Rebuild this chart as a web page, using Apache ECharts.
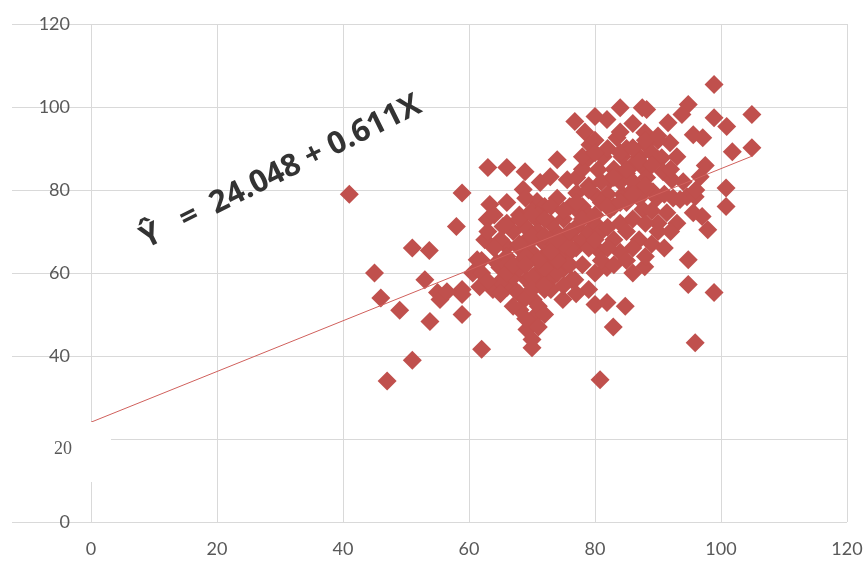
<!DOCTYPE html>
<html><head><meta charset="utf-8">
<script src="https://cdn.jsdelivr.net/npm/echarts@6/dist/echarts.min.js"></script>
<style>html,body{margin:0;padding:0;background:#fff}#c{width:867px;height:563px}</style>
</head><body><div id="c"></div>
<script>
const pointsX = [41,45,46,47,49,51,51,53.7,53,53.8,55,55.4,58,58.9,58.9,58.9,58.9,56.5,62,60.6,61.7,63.8,66,64.9,61.3,62.5,62.9,63.3,63,66,68.9,74,65.4,66,69.2,70.8,74,76,75.6,72.4,68.1,64.4,68.6,70.8,71.3,72.9,75.6,
70,69.2,70.2,68.1,70.2,67.6,69.2,74.9,76.3,72.9,71.3,
76.8,80,81.9,82.9,80.8,81.9,80.8,87.9,94.8,94.8,84.8,95.9,98.9,
98.9,98.9,100.9,104.9,101.8,104.9,100.8,100.8,97.1,97.9,97.5,94.8,93.8,91.6,91.9,95.6,96.7,90.6,90.8,89.8,92.4,94.6,95.9,97,
84,87.5,88.2,80,81.9,76.8,78.4,79.2,83.5,87.9,86,78.7,81.3,84.3,80.5,87.5,77.1,82.4,88.2,92.2,77.1,80.3,84.4,89.2,93.5,77.6,82.4,87.6,91.4,95.6,
65,67,69,71,73,75,66,68,70,72,74,67,69,71,73,75,68,70,72,74,66,69,64,63,65,67,70,72,68,71,73,75,74,76,77,78,79,80,81,79,78,77,76,78,79,80,82,83,84,85,86,83,85,86,84,82,81,83,85,86,87,85,84,86,88,89,90,82,80,79,78,88,87,86,89,90,91,92,93,94,96,93,92,90,88,87,86,84,82,81,83,85,86,88,89,91,79,80,77,74,76,73,71,70,69,66,64,62,63,65,62,67,69,71,72,70,71,69,
66,68,70,72,74,67,69,71,73,75,68,70,72,74,76,66,68,70,72,73,75,77,78,80,82,84,86,88,79,81,83,85,87,89,78,80,84,86,88,90,70,72,69];
const pointsY = [79,60,54,34,51,66,39,65.4,58.4,48.3,55.3,53.6,71.2,79.3,56,50,54.8,55.5,41.6,60,56.7,56,56.5,61.3,63.2,68,72.9,76.5,85.4,85.4,84.4,87.3,71.2,66.4,68,72.9,69.7,76,64.4,64.9,62.5,62.5,80.1,77.2,81.8,83.2,82.5,
42,46.4,49.2,51.1,53.6,55.5,58.4,53.6,58.4,58.4,60.8,
58.4,52.4,52.9,47,34.3,61.3,65.1,61.5,63.2,57.2,52,43.2,55.3,
105.4,97.4,95.3,98.2,89.2,90.2,80.5,76,92.6,70.4,85.9,100.6,98.2,96.2,91.4,93.3,83.2,87.8,84.4,78.1,78.1,78.4,78.4,73.6,
99.8,99.8,99.4,97.7,97,96.5,94,90.9,92.6,93.8,90.2,87.3,88,88,84.9,85.6,83,82.5,83,82.5,79.3,78.4,78.9,79.6,77.7,74.5,75.3,75.3,74.5,74.5,
58,60,62,63,62,61,64,66,65,67,66,70,71,70,72,73,74,75,76,78,77,78,74,70,68,59,57,56,55,59,56,57,60,62,66,68,70,72,70,66,62,71,69,76,74,68,71,68,72,70,73,76,77,80,82,79,77,85,84,86,88,90,94,96,91,89,92,90,92,81,85,80,78,82,75,72,79,85,88,82,80,72,70,70,72,68,66,65,66,63,62,63,60,64,67,66,56,60,55,64,66,68,74,68,64,62,66,60,58,55,63,52,54,52,50,44,47,49,
60,61,59,61,63,62,64,63,65,67,67,69,69,68,70,72,73,74,73,76,75,77,73,74,76,77,79,81,80,82,83,85,87,86,88,89,89,90,92,93,56,57,62];
const interceptVal = 24.048, slopeVal = 0.611, lineX = [0, 105];
const axisTicks = [0,20,40,60,80,100,120];
const equationText = 'Ŷ   =  24.048 + 0.611X';

const scatterData = pointsX.map((x,i)=>[x, pointsY[i]]);
const lineData = lineX.map(x=>[x, interceptVal + slopeVal*x]);

const chart = echarts.init(document.getElementById('c'));
const labelFont = {color:'#595959', fontSize:18, fontFamily:'Lato, "Open Sans", sans-serif'};
chart.setOption({
  animation:false,
  grid:{left:91, right:20, top:24, bottom:41},
  xAxis:{type:'value', min:0, max:120, interval:20,
    axisLine:{show:false}, axisTick:{show:false},
    splitLine:{lineStyle:{color:'#d9d9d9', width:1}},
    axisLabel:Object.assign({margin:18}, labelFont)},
  yAxis:{type:'value', min:0, max:120, interval:20,
    axisLine:{show:false},
    axisTick:{show:true, length:79, lineStyle:{color:'#d9d9d9'}},
    splitLine:{lineStyle:{color:'#d9d9d9', width:1}},
    axisLabel:Object.assign({margin:21, formatter:v=> v===20 ? '' : String(v)}, labelFont)},
  series:[
    {type:'scatter', data:scatterData, symbol:'diamond', symbolSize:19,
     itemStyle:{color:'#C0504D', opacity:1}, z:2},
    {type:'line', data:lineData, symbol:'none', lineStyle:{color:'#d0605c', width:1}, z:3}
  ],
  graphic:[
    {type:'rect', shape:{x:0,y:422,width:111,height:60}, style:{fill:'#fff'}, z:100},
    {type:'text', x:72, y:449, z:101, style:{text:'20', fill:'#595959', font:'18px "Liberation Serif", "DejaVu Serif", serif', align:'right', verticalAlign:'middle'}},
    {type:'text', x:281, y:172, rotation:0.46, originX:0, originY:0, z:101,
     style:{text:equationText, fill:'#333', font:'bold 31px "Open Sans", Lato, sans-serif', align:'center', verticalAlign:'middle'}}
  ]
});
</script></body></html>
